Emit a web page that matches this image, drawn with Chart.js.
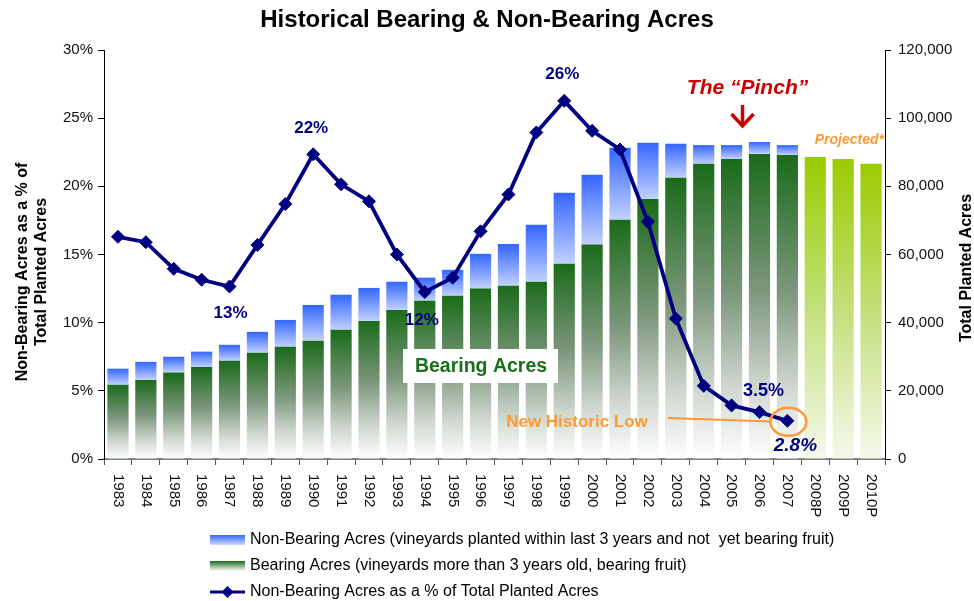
<!DOCTYPE html>
<html><head><meta charset="utf-8">
<script src="https://cdn.jsdelivr.net/npm/chart.js@4/dist/chart.umd.min.js"></script>
<style>html,body{margin:0;padding:0;background:#fff}#wrap{width:974px;height:601px;position:relative}</style>
</head><body><div id="wrap"><canvas id="c" width="974" height="601"></canvas></div>
<script>
const years = ['1983','1984','1985','1986','1987','1988','1989','1990','1991','1992','1993','1994','1995','1996','1997','1998','1999','2000','2001','2002','2003','2004','2005','2006','2007','2008P','2009P','2010P'];
const bearingAcres = [21800,23200,25400,27000,28800,31200,32900,34700,37900,40500,43700,46400,47900,50000,50800,52000,57300,62900,70200,76300,82500,86600,88000,89500,89200,88600,88000,86600];
const nonBearingAcres = [4700,5300,4600,4500,4700,6100,7900,10500,10300,9700,8300,6800,7600,10200,12300,16700,20800,20500,21100,16500,10000,5500,4100,3500,2900,null,null,null];
const nonBearingPct = [16.3,15.9,13.95,13.15,12.65,15.7,18.7,22.35,20.15,18.9,15.0,12.25,13.3,16.7,19.4,23.95,26.27,24.07,22.7,17.4,10.3,5.37,3.93,3.44,2.8,null,null,null];
const pctTicks = [0,5,10,15,20,25,30];
const acreTicks = [0,20000,40000,60000,80000,100000,120000];

const FONT = "'Liberation Sans', Arial, Helvetica, sans-serif";
const NAVY = '#000080';
const nbStops = [[0,'#3366ff'],[1,'#c2d1ff']];
const bStops = [[0,'#1a6b1a'],[0.45,'#7d977d'],[0.75,'#ccd5cc'],[1,'#ffffff']];
const pStops = [[0,'#99cc00'],[0.5,'#c3df7a'],[1,'#f5f9ec']];

function vGrad(chart, top, bottom, stops){
  if (!isFinite(top) || !isFinite(bottom) || top === bottom) return stops[0][1];
  const g = chart.ctx.createLinearGradient(0, top, 0, bottom);
  stops.forEach(s => g.addColorStop(s[0], s[1]));
  return g;
}
function bearingColor(c){
  if (c.type !== 'data') return bStops[0][1];
  const s = c.chart.scales.yAcres; const i = c.dataIndex;
  const stops = years[i].endsWith('P') ? pStops : bStops;
  if (!s) return stops[0][1];
  return vGrad(c.chart, s.getPixelForValue(bearingAcres[i]), s.getPixelForValue(0), stops);
}
function nonBearingColor(c){
  if (c.type !== 'data') return nbStops[0][1];
  const s = c.chart.scales.yAcres; const i = c.dataIndex;
  if (!s || nonBearingAcres[i] == null) return nbStops[0][1];
  return vGrad(c.chart, s.getPixelForValue(bearingAcres[i] + nonBearingAcres[i]), s.getPixelForValue(bearingAcres[i]), nbStops);
}

const annot = {
  id: 'annot',
  afterDraw(chart){
    const ctx = chart.ctx, x = chart.scales.x, yP = chart.scales.yPct, area = chart.chartArea;
    ctx.save();
    // title
    ctx.fillStyle = '#000'; ctx.textAlign = 'center'; ctx.textBaseline = 'middle';
    ctx.font = `bold 24px ${FONT}`;
    ctx.fillText('Historical Bearing & Non-Bearing Acres', chart.width/2, 20);
    // x labels rotated clockwise
    ctx.font = `15px ${FONT}`; ctx.textAlign = 'left'; ctx.fillStyle = '#111';
    years.forEach((lab, i) => {
      ctx.save(); ctx.translate(x.getPixelForValue(i), area.bottom + 15); ctx.rotate(Math.PI/2);
      ctx.fillText(lab, 0, 0); ctx.restore();
    });
    // axis titles
    ctx.fillStyle = '#000'; ctx.font = `bold 16px ${FONT}`; ctx.textAlign = 'center';
    ctx.save(); ctx.translate(23, 272); ctx.rotate(-Math.PI/2); ctx.fillText('Non-Bearing Acres as a % of', 0, 0); ctx.restore();
    ctx.save(); ctx.translate(42, 272); ctx.rotate(-Math.PI/2); ctx.fillText('Total Planted Acres', 0, 0); ctx.restore();
    ctx.save(); ctx.translate(967, 268); ctx.rotate(-Math.PI/2); ctx.fillText('Total Planted Acres', 0, 0); ctx.restore();
    // data labels
    const px = i => x.getPixelForValue(i), py = i => yP.getPixelForValue(nonBearingPct[i]);
    ctx.fillStyle = NAVY; ctx.font = `bold 17px ${FONT}`;
    ctx.fillText('22%', px(7) - 2, py(7) - 26);
    ctx.fillText('13%', px(4) + 1, py(4) + 27);
    ctx.fillText('12%', px(11) - 3, py(11) + 28);
    ctx.fillText('26%', px(16) - 2, py(16) - 27);
    ctx.font = `bold 18px ${FONT}`;
    ctx.fillText('3.5%', px(23) + 4, py(23) - 21);
    ctx.font = `italic bold 19px ${FONT}`;
    ctx.fillText('2.8%', px(24) + 8, py(24) + 25);
    // pinch
    const pinchX = (px(22) + px(23)) / 2;
    ctx.fillStyle = '#cc0000'; ctx.font = `italic bold 21px ${FONT}`;
    ctx.fillText('The \u201cPinch\u201d', pinchX + 2, 88);
    ctx.strokeStyle = '#cc0000'; ctx.lineWidth = 3.5; ctx.lineCap = 'butt';
    ctx.beginPath(); ctx.moveTo(pinchX - 3, 105); ctx.lineTo(pinchX - 3, 125); ctx.stroke();
    ctx.beginPath(); ctx.moveTo(pinchX - 14, 114); ctx.lineTo(pinchX - 3, 126); ctx.lineTo(pinchX + 8, 114); ctx.stroke();
    // projected
    ctx.fillStyle = '#ff9933'; ctx.font = `italic bold 14px ${FONT}`; ctx.textAlign = 'right';
    ctx.fillText('Projected*', area.right - 1, 140);
    // new historic low
    ctx.textAlign = 'center'; ctx.font = `bold 17px ${FONT}`;
    ctx.fillText('New Historic Low', 577, 422);
    ctx.strokeStyle = '#ff9933'; ctx.lineWidth = 2;
    ctx.beginPath(); ctx.moveTo(668, 418); ctx.lineTo(771, 421.5); ctx.stroke();
    ctx.lineWidth = 2.5;
    ctx.beginPath(); ctx.ellipse(px(24) + 1, py(24) + 1, 18, 14, 0, 0, Math.PI*2); ctx.stroke();
    // bearing acres box
    ctx.fillStyle = '#ffffff'; ctx.fillRect(403, 349, 155, 34);
    ctx.fillStyle = '#1a701a'; ctx.font = `bold 19.5px ${FONT}`;
    ctx.fillText('Bearing Acres', 481, 367);
    // legend
    const lx = 210, lw = 35, tx = 250;
    const rows = [540, 566, 592];
    let g = ctx.createLinearGradient(0, rows[0]-5, 0, rows[0]+5);
    g.addColorStop(0, '#3366ff'); g.addColorStop(1, '#d0dcff');
    ctx.fillStyle = g; ctx.fillRect(lx, rows[0]-5, lw, 10);
    g = ctx.createLinearGradient(0, rows[1]-5, 0, rows[1]+5);
    g.addColorStop(0, '#1a6b1a'); g.addColorStop(1, '#ffffff');
    ctx.fillStyle = g; ctx.fillRect(lx, rows[1]-5, lw, 10);
    ctx.strokeStyle = NAVY; ctx.lineWidth = 3;
    ctx.beginPath(); ctx.moveTo(lx, rows[2]); ctx.lineTo(lx+lw, rows[2]); ctx.stroke();
    ctx.fillStyle = NAVY; ctx.beginPath();
    const cx = lx + lw/2; ctx.moveTo(cx, rows[2]-6); ctx.lineTo(cx+6, rows[2]); ctx.lineTo(cx, rows[2]+6); ctx.lineTo(cx-6, rows[2]); ctx.closePath(); ctx.fill();
    ctx.fillStyle = '#000'; ctx.font = `16px ${FONT}`; ctx.textAlign = 'left';
    ctx.fillText('Non-Bearing Acres (vineyards planted within last 3 years and not  yet bearing fruit)', tx, rows[0]);
    ctx.fillText('Bearing Acres (vineyards more than 3 years old, bearing fruit)', tx, rows[1]);
    ctx.fillText('Non-Bearing Acres as a % of Total Planted Acres', tx, rows[2]);
    ctx.restore();
  }
};

new Chart(document.getElementById('c'), {
  type: 'bar',
  data: {
    labels: years,
    datasets: [
      { type: 'line', label: 'Non-Bearing Acres as a % of Total Planted Acres', data: nonBearingPct, yAxisID: 'yPct', order: 0,
        borderColor: NAVY, borderWidth: 3.8, tension: 0, fill: false, spanGaps: false,
        pointStyle: 'rectRot', pointRadius: 6.5, pointBackgroundColor: NAVY, pointBorderColor: NAVY, pointBorderWidth: 1 },
      { label: 'Bearing Acres', data: bearingAcres, yAxisID: 'yAcres', stack: 'acres', order: 1,
        backgroundColor: bearingColor, barPercentage: 0.76, categoryPercentage: 1.0, borderWidth: 0 },
      { label: 'Non-Bearing Acres', data: nonBearingAcres, yAxisID: 'yAcres', stack: 'acres', order: 1,
        backgroundColor: nonBearingColor, barPercentage: 0.76, categoryPercentage: 1.0, borderWidth: 0 }
    ]
  },
  options: {
    responsive: false, animation: false, devicePixelRatio: 1,
    layout: { padding: { top: 50, left: 0, right: 0, bottom: 0 } },
    plugins: { legend: { display: false }, tooltip: { enabled: false }, title: { display: false } },
    scales: {
      x: { stacked: true, offset: true,
        grid: { offset: true, drawOnChartArea: false, drawTicks: true, tickLength: 6, color: '#555' },
        border: { color: '#808080', width: 2 },
        ticks: { color: 'rgba(0,0,0,0)', font: { family: FONT, size: 15 }, autoSkip: false, minRotation: 90, maxRotation: 90 },
        afterFit: s => { s.height = 142; } },
      yPct: { position: 'left', min: pctTicks[0], max: pctTicks[pctTicks.length-1],
        afterBuildTicks: s => { s.ticks = pctTicks.map(v => ({ value: v })); },
        ticks: { callback: v => v + '%', color: '#111', font: { family: FONT, size: 15 }, padding: 5 },
        grid: { drawOnChartArea: false, drawTicks: true, tickLength: 6, color: '#000' },
        border: { color: '#000', width: 1 },
        afterFit: s => { s.width = 104; } },
      yAcres: { position: 'right', stacked: true, min: acreTicks[0], max: acreTicks[acreTicks.length-1],
        afterBuildTicks: s => { s.ticks = acreTicks.map(v => ({ value: v })); },
        ticks: { callback: v => v.toLocaleString('en-US'), color: '#111', font: { family: FONT, size: 15 }, padding: 7 },
        grid: { drawOnChartArea: false, drawTicks: true, tickLength: 6, color: '#000' },
        border: { color: '#000', width: 1 },
        afterFit: s => { s.width = 89; } }
    }
  },
  plugins: [annot]
});
</script>
</body></html>
